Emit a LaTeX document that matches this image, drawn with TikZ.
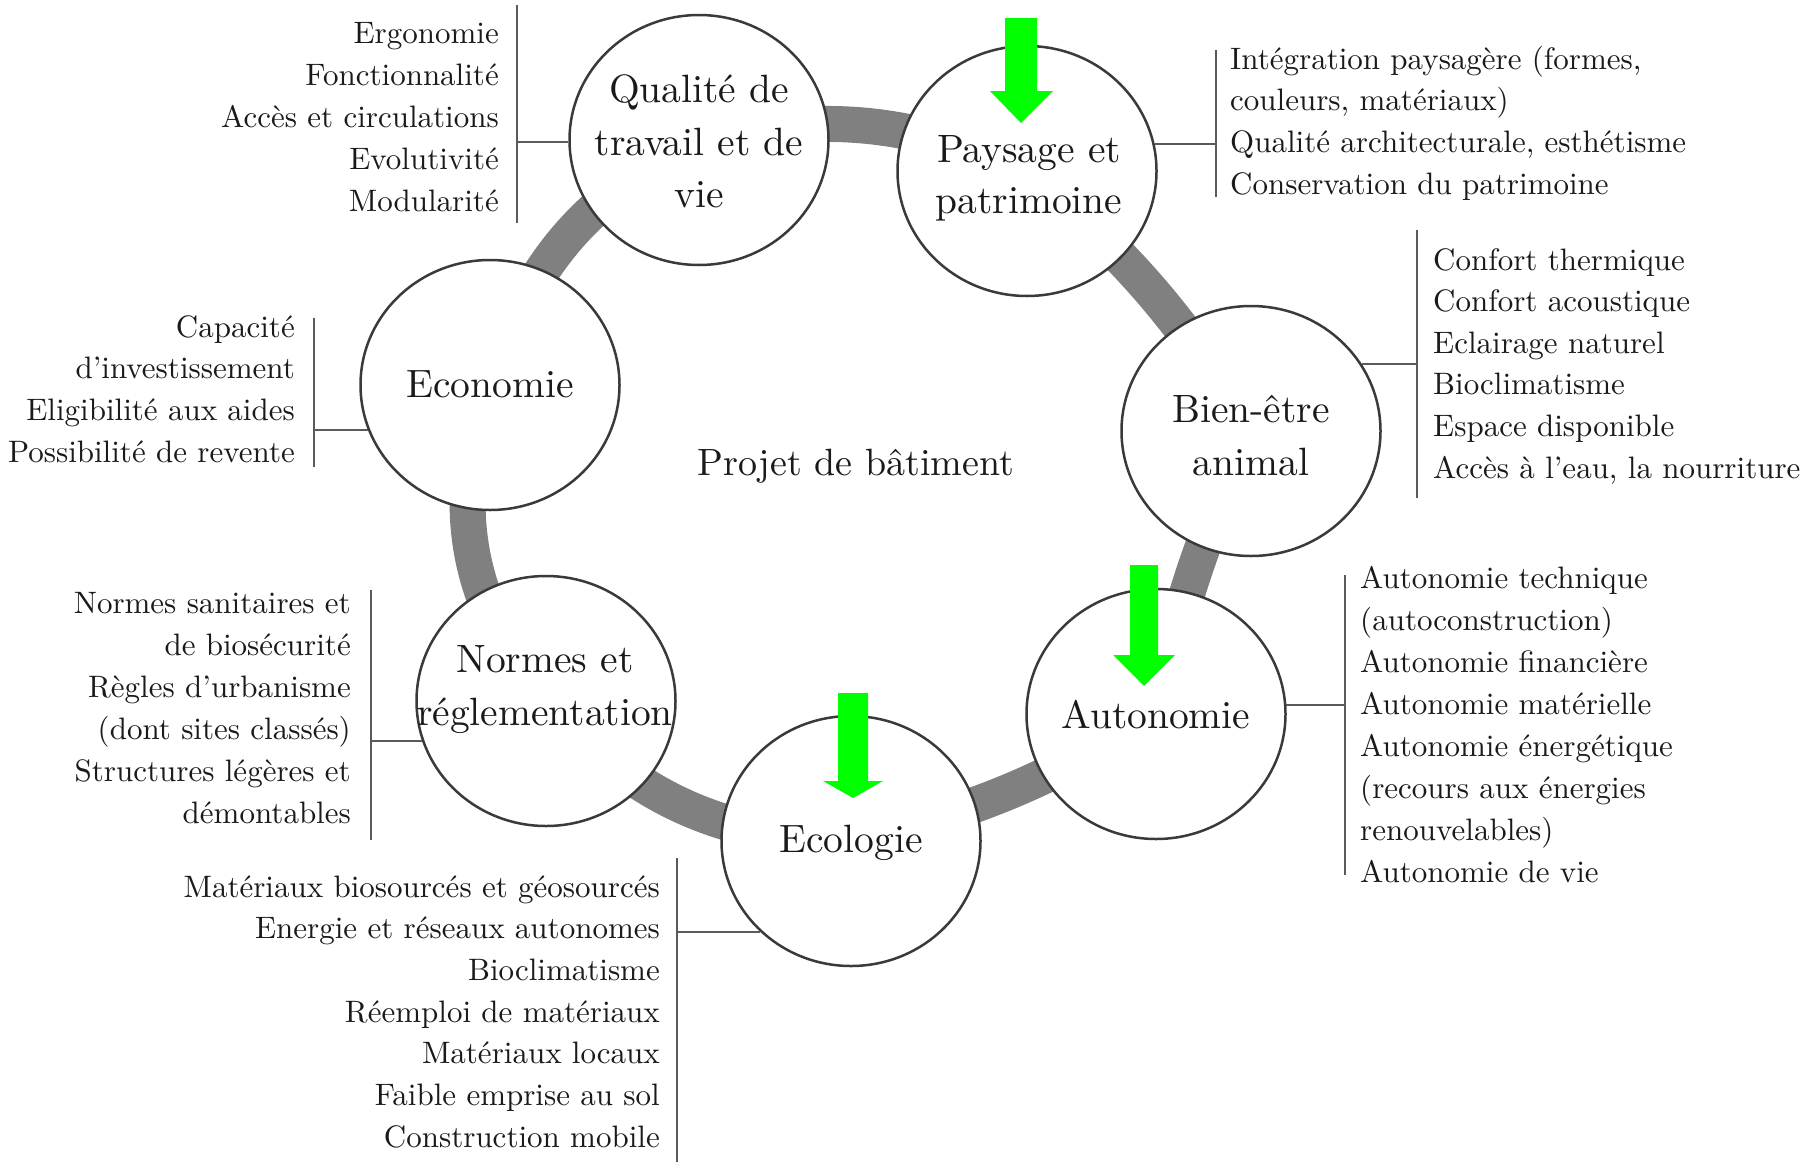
\documentclass[tikz,border=0pt]{standalone}
\usepackage{fontspec}
\setmainfont{lmroman10-regular.otf}
\usetikzlibrary{shapes.geometric}
\pgfdeclarelayer{bg}
\pgfsetlayers{bg,main}
\definecolor{txt}{HTML}{1A1A1A}
\definecolor{bandgray}{HTML}{808080}
\definecolor{rim}{HTML}{3A3A3A}
\definecolor{rulegray}{HTML}{5A5A5A}
\definecolor{arrowgreen}{HTML}{00FF00}
\tikzset{
  theme/.style={draw=rim, line width=2.5pt, fill=white, ellipse, minimum width=259pt, minimum height=250pt, inner sep=0pt},
  ctext/.style={font=\fontsize{39.5}{52}\selectfont, text=txt, inner sep=0pt, anchor=base},
  ltext/.style={font=\fontsize{31}{42}\selectfont, text=txt, inner sep=0pt, anchor=base west},
  rtext/.style={font=\fontsize{31}{42}\selectfont, text=txt, inner sep=0pt, anchor=base east},
  bandline/.style={draw=bandgray, line width=36pt},
  rulel/.style={draw=rulegray, line width=2pt},
  greenarrow/.style={fill=arrowgreen},
}
\begin{document}
\begin{tikzpicture}[x=1pt,y=-1pt]
\useasboundingbox (0,0) rectangle (1810,1165);
\begin{pgfonlayer}{bg}
\fill[white] (0,0) rectangle (1810,1165);
\end{pgfonlayer}

% theme circles
\node[theme] (q) at (699,140) {};
\node[theme] (p) at (1027,171) {};
\node[theme] (b) at (1251,431) {};
\node[theme] (a) at (1156,714) {};
\node[theme] (e) at (851,841) {};
\node[theme] (n) at (546,701) {};
\node[theme] (c) at (490,385) {};

% ring bands
\begin{pgfonlayer}{bg}
\draw[bandline] (q.center) to[bend left=18] (p.center);
\draw[bandline] (p.center) to[bend left=9] (b.center);
\draw[bandline] (b.center) to[bend right=6] (a.center);
\draw[bandline] (a.center) to[bend left=9] (e.center);
\draw[bandline] (e.center) to[bend left=23] (n.center);
\draw[bandline] (n.center) to[bend left=30] (c.center);
\draw[bandline] (c.center) to[bend left=23] (q.center);
\end{pgfonlayer}

% circle texts
\node[ctext] (qt1) at (699,102) {Qualité de};
\node[ctext] (qt2) at (699,155) {travail et de};
\node[ctext] (qt3) at (699,207) {vie};
\node[ctext] (pt1) at (1029,162) {Paysage et};
\node[ctext] (pt2) at (1029,213) {patrimoine};
\node[ctext] (bt1) at (1251,422) {Bien-être};
\node[ctext] (bt2) at (1251,475) {animal};
\node[ctext] (ct1) at (490,397) {Economie};
\node[ctext] (nt1) at (545,672) {Normes et};
\node[ctext] (nt2) at (545,725) {réglementation};
\node[ctext] (at1) at (1156,728) {Autonomie};
\node[ctext] (et1) at (851,852) {Ecologie};
\node[ctext, font=\fontsize{38}{50}\selectfont] (proj) at (856,475) {Projet de bâtiment};

% green arrows
\fill[greenarrow] (1005,18) -- (1037,18) -- (1037,91) -- (1053,91) -- (1021,123) -- (990,91) -- (1005,91) -- cycle;
\fill[greenarrow] (1130,565) -- (1158,565) -- (1158,655) -- (1175,655) -- (1144,686) -- (1113,655) -- (1130,655) -- cycle;
\fill[greenarrow] (838,693) -- (868,693) -- (868,781) -- (883,781) -- (853,798) -- (823,781) -- (838,781) -- cycle;

% Qualite list
\coordinate (qv1) at (517,5);
\coordinate (qv2) at (517,223);
\draw[rulel] (qv1) -- (qv2);
\draw[rulel] (q.181) -- (q.181 -| qv1);
\foreach \t [count=\i from 0] in {Ergonomie,Fonctionnalité,Accès et circulations,Evolutivité,Modularité}
  \node[rtext] (ql\i) at (499,43+42.2*\i) {\t};

% Paysage list
\coordinate (pv1) at (1216,50);
\coordinate (pv2) at (1216,197);
\draw[rulel] (pv1) -- (pv2);
\draw[rulel] (p.12.8) -- (p.12.8 -| pv1);
\foreach \t [count=\i from 0] in {{Intégration paysagère (formes,},{couleurs, matériaux)},{Qualité architecturale, esthétisme},{Conservation du patrimoine}}
  \node[ltext] (pl\i) at (1230,69+41.7*\i) {\t};

% Bien-etre list
\coordinate (bv1) at (1417,230);
\coordinate (bv2) at (1417,498);
\draw[rulel] (bv1) -- (bv2);
\draw[rulel] (b.31.1) -- (b.31.1 -| bv1);
\foreach \t [count=\i from 0] in {Confort thermique,Confort acoustique,Eclairage naturel,Bioclimatisme,Espace disponible,{Accès à l’eau, la nourriture}}
  \node[ltext] (bl\i) at (1433,270+41.6*\i) {\t};

% Economie list
\coordinate (cv1) at (314,318);
\coordinate (cv2) at (314,467);
\draw[rulel] (cv1) -- (cv2);
\draw[rulel] (c.200.2) -- (c.200.2 -| cv1);
\foreach \t [count=\i from 0] in {Capacité,d’investissement,Eligibilité aux aides,Possibilité de revente}
  \node[rtext] (cl\i) at (295,337+41.7*\i) {\t};

% Normes list
\coordinate (nv1) at (371,590);
\coordinate (nv2) at (371,840);
\draw[rulel] (nv1) -- (nv2);
\draw[rulel] (n.198.8) -- (n.198.8 -| nv1);
\foreach \t [count=\i from 0] in {Normes sanitaires et,de biosécurité,Règles d’urbanisme,{(dont sites classés)},Structures légères et,démontables}
  \node[rtext] (nl\i) at (351,613+42*\i) {\t};

% Autonomie list
\coordinate (av1) at (1345,575);
\coordinate (av2) at (1345,875);
\draw[rulel] (av1) -- (av2);
\draw[rulel] (a.4.4) -- (a.4.4 -| av1);
\foreach \t [count=\i from 0] in {Autonomie technique,{(autoconstruction)},Autonomie financière,Autonomie matérielle,Autonomie énergétique,{(recours aux énergies},{renouvelables)},Autonomie de vie}
  \node[ltext] (al\i) at (1360,588+42*\i) {\t};

% Ecologie list
\coordinate (ev1) at (677,858);
\coordinate (ev2) at (677,1162);
\draw[rulel] (ev1) -- (ev2);
\draw[rulel] (e.225) -- (e.225 -| ev1);
\foreach \t [count=\i from 0] in {Matériaux biosourcés et géosourcés,Energie et réseaux autonomes,Bioclimatisme,Réemploi de matériaux,Matériaux locaux,Faible emprise au sol,Construction mobile}
  \node[rtext] (el\i) at (660,897+41.7*\i) {\t};
\end{tikzpicture}
\end{document}
